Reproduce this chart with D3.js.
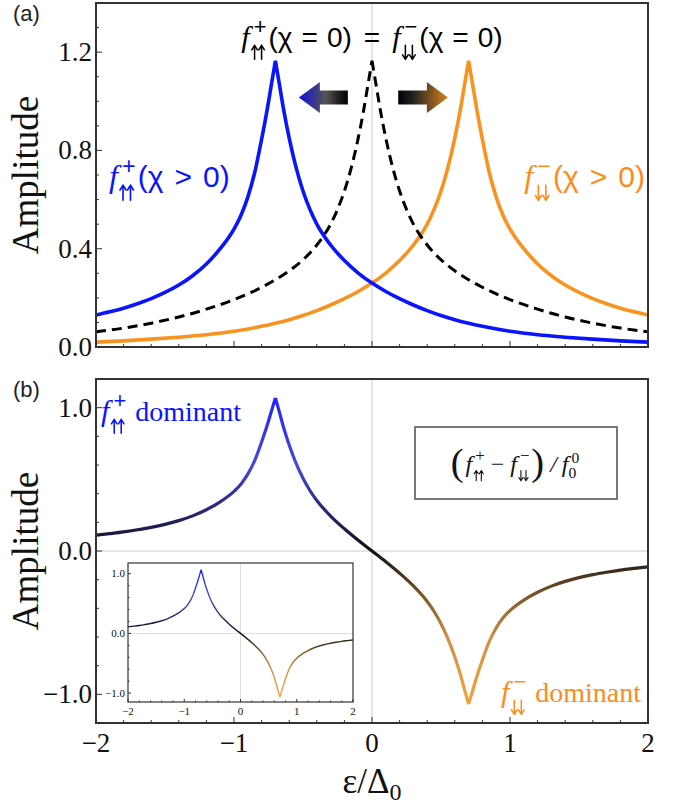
<!DOCTYPE html>
<html>
<head>
<meta charset="utf-8">
<script src="https://cdn.jsdelivr.net/npm/d3@7"></script>
<style>
  body { margin: 0; background: #fff; }
  svg text { white-space: pre; }
</style>
</head>
<body>
<svg id="chart" width="684" height="804"></svg>
<script>
// ---------- data ----------
// energy grid (in units of Δ0) and amplitude of the spin-up triplet component (χ > 0)
const epsUp = [-2.0, -1.9, -1.8, -1.7, -1.6, -1.5, -1.4, -1.3, -1.2, -1.1, -1.0, -0.95, -0.9, -0.85, -0.8, -0.76, -0.73, -0.7,
               -0.67, -0.64, -0.6, -0.55, -0.5, -0.45, -0.4, -0.3, -0.2, -0.1, 0.0,
               0.1, 0.2, 0.3, 0.4, 0.5, 0.6, 0.8, 1.0, 1.2, 1.4, 1.6, 1.8, 2.0];
const ampUp = [0.130, 0.143, 0.158, 0.176, 0.197, 0.222, 0.252, 0.290, 0.338, 0.400, 0.480, 0.535, 0.610, 0.710, 0.845, 0.965, 1.065, 1.165,
               1.065, 0.965, 0.850, 0.730, 0.635, 0.560, 0.500, 0.415, 0.352, 0.301, 0.260,
               0.226, 0.197, 0.171, 0.148, 0.128, 0.111, 0.084, 0.064, 0.050, 0.040, 0.032, 0.025, 0.020];

// spin-down triplet component (χ > 0)
const epsDown = [-2.0, -1.8, -1.6, -1.4, -1.2, -1.0, -0.8, -0.6, -0.5, -0.4, -0.3, -0.2, -0.1, 0.0,
                 0.1, 0.2, 0.3, 0.4, 0.45, 0.5, 0.55, 0.6, 0.64, 0.67, 0.7,
                 0.73, 0.76, 0.8, 0.85, 0.9, 0.95, 1.0, 1.1, 1.2, 1.3, 1.4, 1.5, 1.6, 1.7, 1.8, 1.9, 2.0];
const ampDown = [0.020, 0.025, 0.032, 0.040, 0.050, 0.064, 0.084, 0.111, 0.128, 0.148, 0.171, 0.197, 0.226, 0.260,
                 0.301, 0.352, 0.415, 0.500, 0.560, 0.635, 0.730, 0.850, 0.965, 1.065, 1.165,
                 1.065, 0.965, 0.845, 0.710, 0.610, 0.535, 0.480, 0.400, 0.338, 0.290, 0.252, 0.222, 0.197, 0.176, 0.158, 0.143, 0.130];

// both components at χ = 0 (degenerate)
const epsZero = [-2.0, -1.8, -1.6, -1.4, -1.2, -1.0, -0.8, -0.6, -0.5, -0.4, -0.3, -0.25, -0.2, -0.15, -0.1, -0.06, -0.03, 0.0,
                 0.03, 0.06, 0.1, 0.15, 0.2, 0.25, 0.3, 0.4, 0.5, 0.6, 0.8, 1.0, 1.2, 1.4, 1.6, 1.8, 2.0];
const ampZero = [0.062, 0.077, 0.097, 0.122, 0.154, 0.193, 0.243, 0.310, 0.355, 0.415, 0.500, 0.560, 0.635, 0.730, 0.850, 0.965, 1.065, 1.165,
                 1.065, 0.965, 0.850, 0.730, 0.635, 0.560, 0.500, 0.415, 0.355, 0.310, 0.243, 0.193, 0.154, 0.122, 0.097, 0.077, 0.062];

// normalized difference (f↑↑+ − f↓↓−)/f0^0
const epsDiff = [-2.0, -1.9, -1.8, -1.7, -1.6, -1.5, -1.4, -1.3, -1.2, -1.1, -1.0, -0.95, -0.9, -0.85, -0.8, -0.76, -0.73, -0.7,
                 -0.67, -0.64, -0.6, -0.55, -0.5, -0.45, -0.4, -0.3, -0.2, -0.1, 0.0,
                 0.1, 0.2, 0.3, 0.4, 0.45, 0.5, 0.55, 0.6, 0.64, 0.67, 0.7,
                 0.73, 0.76, 0.8, 0.85, 0.9, 0.95, 1.0, 1.1, 1.2, 1.3, 1.4, 1.5, 1.6, 1.7, 1.8, 1.9, 2.0];
const ampDiff = [0.110, 0.121, 0.133, 0.148, 0.165, 0.186, 0.212, 0.245, 0.288, 0.343, 0.416, 0.466, 0.536, 0.631, 0.761, 0.875, 0.972, 1.068,
                 0.965, 0.860, 0.739, 0.611, 0.507, 0.422, 0.352, 0.244, 0.155, 0.075, 0.000,
                 -0.075, -0.155, -0.244, -0.352, -0.422, -0.507, -0.611, -0.739, -0.860, -0.965, -1.068,
                 -0.972, -0.875, -0.761, -0.631, -0.536, -0.466, -0.416, -0.343, -0.288, -0.245, -0.212, -0.186, -0.165, -0.148, -0.133, -0.121, -0.110];

// tick labels
const xTicks = [-2, -1, 0, 1, 2];
const xTickLabels = ["\u22122", "\u22121", "0", "1", "2"];
const yTicksA = [0, 0.4, 0.8, 1.2];
const yTickLabelsA = ["0.0", "0.4", "0.8", "1.2"];
const yTicksB = [-1, 0, 1];
const yTickLabelsB = ["\u22121.0", "0.0", "1.0"];

// ---------- setup ----------
const svg = d3.select("#chart");
svg.append("rect").attr("width", 684).attr("height", 804).attr("fill", "#fff");
const defs = svg.append("defs");

const SERIF = "'Liberation Serif', 'Times New Roman', serif";
const SANS = "'Liberation Sans', 'DejaVu Sans', sans-serif";
const BLUE = "#0a14ff";
const ORANGE = "#f7931e";
const ORANGE_TXT = "#ff8c1a";
const FRAME = "#333";
const GRID = "#dcdcdc";

const xA = d3.scaleLinear().domain([-2, 2]).range([96, 648]);
const yA = d3.scaleLinear().domain([0, 1.4]).range([347, 3]);
const xB = d3.scaleLinear().domain([-2, 2]).range([96, 648]);
const yB = d3.scaleLinear().domain([-1.2, 1.2]).range([723, 379]);
const xI = d3.scaleLinear().domain([-2, 2]).range([128, 353]);
const yI = d3.scaleLinear().domain([-1.15, 1.18]).range([702, 563]);

const zip = (xs, ys) => xs.map((x, i) => [x, ys[i]]);

// Split a series at its cusps (local extrema) so each branch stays monotone
// and the peaks keep their sharp tips.
function branches(pts) {
  const out = [];
  let cur = [pts[0]];
  for (let i = 1; i < pts.length; i++) {
    cur.push(pts[i]);
    if (i < pts.length - 1) {
      const a = pts[i][1] - pts[i - 1][1], b = pts[i + 1][1] - pts[i][1];
      if (a * b < 0) { out.push(cur); cur = [pts[i]]; }
    }
  }
  out.push(cur);
  return out;
}
function cuspPath(pts, x, y) {
  const line = d3.line().x(d => x(d[0])).y(d => y(d[1])).curve(d3.curveMonotoneX);
  return branches(pts).map(b => line(b)).join("");
}

function clip(id, x, y) {
  defs.append("clipPath").attr("id", id).append("rect")
    .attr("x", x.range()[0]).attr("y", y.range()[1])
    .attr("width", x.range()[1] - x.range()[0]).attr("height", y.range()[0] - y.range()[1]);
}
clip("clipA", xA, yA);
clip("clipB", xB, yB);
clip("clipI", xI, yI);

// Frame with inward ticks on bottom and left
function frame(g, x, y, o) {
  const [x0, x1] = x.range(), [y0, y1] = y.range();
  g.append("rect").attr("x", x0).attr("y", y1).attr("width", x1 - x0).attr("height", y0 - y1)
    .attr("fill", "none").attr("stroke", FRAME).attr("stroke-width", o.sw);
  const minorX = d3.range(-2, 2.001, 0.2).map(v => +v.toFixed(2));
  minorX.forEach(v => {
    const major = Math.abs(v - Math.round(v)) < 1e-6;
    g.append("line").attr("x1", x(v)).attr("x2", x(v))
      .attr("y1", y0).attr("y2", y0 - (major ? o.tMaj : o.tMin))
      .attr("stroke", FRAME).attr("stroke-width", 1);
  });
  o.yMinor.forEach(v => {
    const major = o.yMajor.some(m => Math.abs(m - v) < 1e-6);
    g.append("line").attr("x1", x0).attr("x2", x0 + (major ? o.tMaj : o.tMin))
      .attr("y1", y(v)).attr("y2", y(v))
      .attr("stroke", FRAME).attr("stroke-width", 1);
  });
}

// Spin arrows (↑↑ / ↓↓) drawn as small strokes so they keep the label colour
function spinArrows(g, x, S, dir, color, k) {
  const h = 0.5 * S * k, w = 0.2 * S * k, step = 0.25 * S * k;
  const yTop = -0.06 * S, yBot = yTop + h;
  const sw = Math.max(1, 0.055 * S * k);
  for (let i = 0; i < 2; i++) {
    const xc = x + w / 2 + i * step;
    const tip = dir === "up" ? yTop : yBot;
    const hd = dir === "up" ? w * 0.8 : -w * 0.8;
    g.append("path")
      .attr("d", `M${xc},${yBot}L${xc},${yTop}M${xc - w / 2},${tip + hd}L${xc},${tip}L${xc + w / 2},${tip + hd}`)
      .attr("fill", "none").attr("stroke", color).attr("stroke-width", sw)
      .attr("stroke-linecap", "round").attr("stroke-linejoin", "round");
  }
  return w + step;
}

// Rich text: italic f with stacked super/subscripts
function rich(parent, pieces, o) {
  const color = o.fill || "#000";
  const g = parent.append("g").attr("fill", color);
  const S = o.size;
  let cx = 0;
  pieces.forEach(p => {
    if (p.stack) {
      const sdx = p.supDx ?? 4, bdx = p.subDx ?? 2;
      const a = g.append("text").attr("x", cx + sdx).attr("y", -(p.supY ?? 0.45) * S)
        .attr("font-family", p.supFont || SANS).attr("font-size", S * (p.supScale || 0.78)).text(p.stack[0]);
      let wb;
      if (p.stack[1] === "up" || p.stack[1] === "down") {
        wb = spinArrows(g, cx + bdx, S, p.stack[1], color, p.arrowScale || 1);
      } else {
        const b = g.append("text").attr("x", cx + bdx).attr("y", (p.subY ?? 0.36) * S)
          .attr("font-family", p.subFont || SERIF).attr("font-size", S * (p.subScale || 0.6)).text(p.stack[1]);
        wb = b.node().getComputedTextLength();
      }
      cx += Math.max(a.node().getComputedTextLength() + sdx, wb + bdx) + (p.gap ?? 2);
    } else {
      const t = g.append("text").attr("x", cx + (p.pre || 0)).attr("y", (p.dy || 0) * S)
        .attr("font-family", p.font || SANS)
        .attr("font-style", p.italic ? "italic" : "normal")
        .attr("font-size", S * (p.scale || 1)).text(p.t);
      cx += (p.pre || 0) + t.node().getComputedTextLength() + (p.gap || 0);
    }
  });
  let x0 = o.x;
  if (o.anchor === "middle") x0 -= cx / 2;
  else if (o.anchor === "end") x0 -= cx;
  g.attr("transform", `translate(${x0},${o.y})`);
  return g;
}
const fUp = [{ t: "f", italic: true, font: SERIF, scale: 1.08 }, { stack: ["+", "up"] }];
const fDn = [{ t: "f", italic: true, font: SERIF, scale: 1.08 }, { stack: ["\u2212", "down"] }];
const rel = (sym, g) => [{ t: "(\u03c7", gap: g }, { t: sym, gap: g }, { t: "0)" }];

// ---------- panel (a) ----------
const gA = svg.append("g");
gA.append("line").attr("x1", xA(0)).attr("x2", xA(0)).attr("y1", yA(0)).attr("y2", yA(1.4))
  .attr("stroke", GRID).attr("stroke-width", 1.5);

const curvesA = gA.append("g").attr("clip-path", "url(#clipA)").attr("fill", "none");
curvesA.append("path").attr("d", cuspPath(zip(epsDown, ampDown), xA, yA))
  .attr("stroke", ORANGE).attr("stroke-width", 3.6);
curvesA.append("path").attr("d", cuspPath(zip(epsUp, ampUp), xA, yA))
  .attr("stroke", BLUE).attr("stroke-width", 3.6);
curvesA.append("path").attr("d", cuspPath(zip(epsZero, ampZero), xA, yA))
  .attr("stroke", "#000").attr("stroke-width", 3).attr("stroke-dasharray", "10,6");

frame(gA, xA, yA, { sw: 2, tMaj: 6, tMin: 3, yMajor: yTicksA, yMinor: d3.range(0, 1.41, 0.1).map(v => +v.toFixed(2)) });

gA.selectAll(".ytl").data(yTicksA).join("text")
  .attr("x", 92).attr("y", d => yA(d)).attr("dy", "0.33em")
  .attr("text-anchor", "end").attr("font-family", SERIF).attr("font-size", 27)
  .attr("fill", "#111").text((d, i) => yTickLabelsA[i]);

// shift arrows
const gl = defs.append("linearGradient").attr("id", "gradLeft").attr("x1", "0").attr("x2", "1").attr("y1", "0").attr("y2", "0");
gl.append("stop").attr("offset", "0").attr("stop-color", "#1010d8");
gl.append("stop").attr("offset", "0.55").attr("stop-color", "#555");
gl.append("stop").attr("offset", "0.8").attr("stop-color", "#222");
gl.append("stop").attr("offset", "1").attr("stop-color", "#000");
const gr = defs.append("linearGradient").attr("id", "gradRight").attr("x1", "0").attr("x2", "1").attr("y1", "0").attr("y2", "0");
gr.append("stop").attr("offset", "0").attr("stop-color", "#000");
gr.append("stop").attr("offset", "0.3").attr("stop-color", "#222");
gr.append("stop").attr("offset", "1").attr("stop-color", "#d8801e");

function arrow(tipX, endX, cy, fill) {
  const dir = Math.sign(endX - tipX);
  const head = 21 * dir, hh = 15.5, bh = 7;
  const pts = [[tipX, cy], [tipX + head, cy - hh], [tipX + head, cy - bh], [endX, cy - bh],
               [endX, cy + bh], [tipX + head, cy + bh], [tipX + head, cy + hh]];
  gA.append("path").attr("d", d3.line()(pts) + "Z").attr("fill", fill);
}
arrow(xA(-0.53), xA(-0.175), yA(1.015), "url(#gradLeft)");
arrow(xA(0.55), xA(0.19), yA(1.015), "url(#gradRight)");

// labels
rich(gA, [...fUp, ...rel("=", 9), { t: "=", pre: 12, gap: 12 }, ...fDn, ...rel("=", 9)],
  { x: 372, y: 47, size: 28, anchor: "middle", fill: "#000" });
rich(gA, [...fUp, ...rel(">", 11)], { x: 109, y: 187, size: 30, fill: BLUE });
rich(gA, [...fDn, ...rel(">", 11)], { x: 645, y: 187, size: 30, anchor: "end", fill: ORANGE_TXT });

svg.append("text").attr("x", 13).attr("y", 21).attr("font-family", SANS).attr("font-size", 22).attr("fill", "#222").text("(a)");
svg.append("text").attr("transform", `translate(38,${yA(0.7)}) rotate(-90)`)
  .attr("text-anchor", "middle").attr("font-family", SERIF).attr("font-size", 37).attr("fill", "#111").text("Amplitude");

// ---------- panel (b) ----------
const gB = svg.append("g");
gB.append("line").attr("x1", xB(0)).attr("x2", xB(0)).attr("y1", yB(-1.2)).attr("y2", yB(1.2))
  .attr("stroke", GRID).attr("stroke-width", 1.5);
gB.append("line").attr("x1", xB(-2)).attr("x2", xB(2)).attr("y1", yB(0)).attr("y2", yB(0))
  .attr("stroke", GRID).attr("stroke-width", 1.5);

// colour follows the value: blue for positive, black near zero, orange for negative
const colorStops = [
  [1.1, "#2020ff"], [0.6, "#4a4ad6"], [0.3, "#2a2a7a"], [0.1, "#16163a"], [0, "#121212"],
  [-0.1, "#2e2416"], [-0.3, "#7a5426"], [-0.6, "#cf8f48"], [-1.1, "#f8a43a"]
];
function valueGradient(id, y) {
  const lg = defs.append("linearGradient").attr("id", id).attr("gradientUnits", "userSpaceOnUse")
    .attr("x1", 0).attr("x2", 0).attr("y1", y(1.1)).attr("y2", y(-1.1));
  colorStops.forEach(([v, c]) => lg.append("stop").attr("offset", (1.1 - v) / 2.2).attr("stop-color", c));
}
valueGradient("gradB", yB);
valueGradient("gradI", yI);

gB.append("g").attr("clip-path", "url(#clipB)").append("path")
  .attr("d", cuspPath(zip(epsDiff, ampDiff), xB, yB))
  .attr("fill", "none").attr("stroke", "url(#gradB)").attr("stroke-width", 3.2);

frame(gB, xB, yB, { sw: 2, tMaj: 6, tMin: 3, yMajor: yTicksB, yMinor: d3.range(-1.2, 1.21, 0.2).map(v => +v.toFixed(2)) });

gB.selectAll(".ytl").data(yTicksB).join("text")
  .attr("x", 92).attr("y", d => yB(d)).attr("dy", "0.33em")
  .attr("text-anchor", "end").attr("font-family", SERIF).attr("font-size", 27)
  .attr("fill", "#111").text((d, i) => yTickLabelsB[i]);
gB.selectAll(".xtl").data(xTicks).join("text")
  .attr("x", d => xB(d)).attr("y", 752)
  .attr("text-anchor", "middle").attr("font-family", SERIF).attr("font-size", 27)
  .attr("fill", "#111").text((d, i) => xTickLabels[i]);

rich(gB, [...fUp, { t: "dominant", font: SERIF, scale: 1.0, pre: 7 }], { x: 101, y: 421, size: 28, fill: BLUE });
rich(gB, [...fDn, { t: "dominant", font: SERIF, scale: 1.0, pre: 7 }], { x: 641, y: 702, size: 28, anchor: "end", fill: ORANGE_TXT });

// legend box
gB.append("rect").attr("x", 415).attr("y", 427).attr("width", 202).attr("height", 72)
  .attr("fill", "#fff").attr("stroke", "#777").attr("stroke-width", 2);
rich(gB, [
  { t: "(", font: SERIF, scale: 1.6, dy: 0.13, gap: 2 },
  { t: "f", italic: true, font: SERIF }, { stack: ["+", "up"], supFont: SERIF, supScale: 0.7, arrowScale: 0.85, supDx: 3, gap: 6 },
  { t: "\u2212", font: SERIF, gap: 6 },
  { t: "f", italic: true, font: SERIF }, { stack: ["\u2212", "down"], supFont: SERIF, supScale: 0.7, arrowScale: 0.85, supDx: 3, gap: 2 },
  { t: ")", font: SERIF, scale: 1.6, dy: 0.13, gap: 6 },
  { t: "/", italic: true, font: SERIF, gap: 5 },
  { t: "f", italic: true, font: SERIF }, { stack: ["0", "0"], supFont: SERIF, subFont: SERIF, subScale: 0.65, supScale: 0.65, subY: 0.25, supY: 0.38, supDx: 3, subDx: 0 }
], { x: 516, y: 472, size: 24, anchor: "middle", fill: "#111" });

svg.append("text").attr("x", 13).attr("y", 397).attr("font-family", SANS).attr("font-size", 22).attr("fill", "#222").text("(b)");
svg.append("text").attr("transform", `translate(38,${yB(0)}) rotate(-90)`)
  .attr("text-anchor", "middle").attr("font-family", SERIF).attr("font-size", 37).attr("fill", "#111").text("Amplitude");

// x-axis title
const xt = svg.append("text").attr("x", 372).attr("y", 793).attr("text-anchor", "middle")
  .attr("font-family", SERIF).attr("font-size", 35).attr("fill", "#111");
xt.append("tspan").text("\u03b5/\u0394");
xt.append("tspan").attr("font-size", 24).attr("dy", 7).text("0");

// ---------- inset ----------
const gI = svg.append("g");
gI.append("rect").attr("x", xI(-2)).attr("y", yI(1.18)).attr("width", xI(2) - xI(-2)).attr("height", yI(-1.15) - yI(1.18)).attr("fill", "#fff");
gI.append("line").attr("x1", xI(0)).attr("x2", xI(0)).attr("y1", yI(-1.15)).attr("y2", yI(1.18))
  .attr("stroke", GRID).attr("stroke-width", 1);
gI.append("line").attr("x1", xI(-2)).attr("x2", xI(2)).attr("y1", yI(0)).attr("y2", yI(0))
  .attr("stroke", GRID).attr("stroke-width", 1);
gI.append("g").attr("clip-path", "url(#clipI)").append("path")
  .attr("d", cuspPath(zip(epsDiff, ampDiff), xI, yI))
  .attr("fill", "none").attr("stroke", "url(#gradI)").attr("stroke-width", 1.4);
frame(gI, xI, yI, { sw: 1.2, tMaj: 3, tMin: 1.5, yMajor: yTicksB, yMinor: d3.range(-1.0, 1.01, 0.2).map(v => +v.toFixed(2)) });
gI.selectAll(".ytl").data(yTicksB).join("text")
  .attr("x", 125).attr("y", d => yI(d)).attr("dy", "0.33em")
  .attr("text-anchor", "end").attr("font-family", SERIF).attr("font-size", 11)
  .attr("fill", "#111").text((d, i) => yTickLabelsB[i]);
gI.selectAll(".xtl").data(xTicks).join("text")
  .attr("x", d => xI(d)).attr("y", 715)
  .attr("text-anchor", "middle").attr("font-family", SERIF).attr("font-size", 11)
  .attr("fill", "#111").text((d, i) => xTickLabels[i]);
</script>
</body>
</html>
